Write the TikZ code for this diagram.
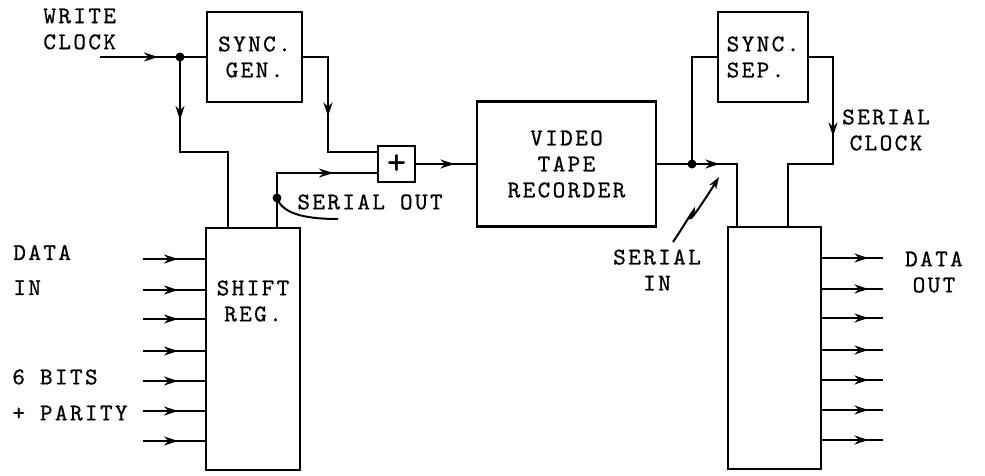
\documentclass[tikz,border=0pt]{standalone}
\usepackage{fontspec}
\newfontfamily\labelfont{lmmono10-regular.otf}[LetterSpace=10,FakeBold=0.7]
\newcommand{\blockfont}{\labelfont\fontsize{12}{13}\selectfont}
\usetikzlibrary{arrows.meta,decorations.markings}

\begin{document}
\begin{tikzpicture}[x=0.5pt,y=-0.5pt]
\tikzset{
  blockbox/.style={draw,line width=1.4pt,inner sep=0pt,font=\blockfont,align=center},
  wire/.style={line width=1pt},
  arrowat/.style={postaction={decorate},decoration={markings,mark=at position #1 with {\arrow{Stealth[length=7pt,width=4.5pt]}}}},
  tag/.style={font=\blockfont,inner sep=0pt,align=left},
  junction/.style={circle,fill,inner sep=0pt,minimum size=4.5pt}
}
\useasboundingbox (0,0) rectangle (985,476);
\node[blockbox,minimum width=47.5pt,minimum height=45pt] (n_syncgen) at (254.5,57) {SYNC.\\GEN.};
\node[blockbox,minimum width=45pt,minimum height=45pt,align=left] (n_syncsep) at (763,57) {SYNC.\\SEP.};
\node[blockbox,minimum width=89.5pt,minimum height=62.5pt] (n_vtr) at (566.5,164) {VIDEO\\TAPE\\RECORDER};
\node[blockbox,minimum width=18.5pt,minimum height=18pt,font=\labelfont\fontsize{18}{18}\selectfont] (n_plus) at (396.5,164) {+};
\node[blockbox,minimum width=47pt,minimum height=121pt] (n_shiftin) at (253,349) {};
\node[tag,align=center] (t_shift) at (253,301) {SHIFT\\REG.};
\node[blockbox,minimum width=46.5pt,minimum height=121pt] (n_shiftout) at (774.5,348) {};
\coordinate (c_wclk) at (100,57);
\node[junction] (j_wclk) at (180,57) {};
\coordinate (c_sin1) at (228,228);
\coordinate (c_pin1) at (378,152);
\coordinate (c_sout) at (277,228);
\node[junction] (j_sout) at (277,198) {};
\coordinate (c_pin2) at (378,173);
\coordinate (c_sotag) at (338,219);
\node[junction] (j_vtr) at (692,164) {};
\coordinate (c_sin2) at (737,227);
\coordinate (c_sin3) at (788,227);
\coordinate (c_sqtail) at (673,242);
\coordinate (c_sqhead) at (719,177);
\draw[wire,arrowat=29pt] (c_wclk) -- (n_syncgen.west);
\draw[wire,arrowat=31.5pt] (j_wclk.center) -- (180,152) -| (c_sin1);
\draw[wire,arrowat=42pt] (n_syncgen.east) -| (328,152) -- (c_pin1);
\draw[wire,arrowat=55.5pt] (c_sout) |- (c_pin2);
\draw[wire] (j_sout.center) .. controls (282,212) and (300,219) .. (c_sotag);
\draw[wire,arrowat=19pt] (n_plus.east) -- (n_vtr.west);
\draw[wire,arrowat=31pt] (n_vtr.east) -| (c_sin2);
\draw[wire] (j_vtr.center) |- (n_syncsep.west);
\draw[wire,arrowat=51.5pt] (n_syncsep.east) -| (833,164) -| (c_sin3);
\draw[wire,-{Stealth[length=6pt,width=4pt]}] (c_sqtail) .. controls (684,226) and (700,198) .. (692,215) .. controls (686,228) and (706,198) .. (c_sqhead);
\foreach \yy [count=\i] in {259,290,319,351,381,411,441}{
  \coordinate (c_in\i) at (143,\yy);
  \draw[wire,arrowat=17.5pt] (c_in\i) -- (c_in\i -| n_shiftin.west);
}
\foreach \yy [count=\i] in {258,289,318,350,380,410,440}{
  \coordinate (c_out\i) at (883,\yy);
  \draw[wire,arrowat=23pt] (c_out\i -| n_shiftout.east) -- (c_out\i);
}
\node[tag,anchor=west] (t_wclk) at (43,29) {WRITE\\CLOCK};
\node[tag,anchor=west] (t_sout) at (297,202) {SERIAL OUT};
\node[tag,align=center] (t_sclk) at (886,130) {SERIAL\\CLOCK};
\node[tag,anchor=west] (t_din) at (13,270) {DATA\\[4.5pt]IN};
\node[tag,anchor=west] (t_bits) at (12,395) {6 BITS\\[5pt]+ PARITY};
\node[tag,align=center] (t_sin) at (657,270) {SERIAL\\IN};
\node[tag,align=center] (t_dout) at (934,272) {DATA\\OUT};
\end{tikzpicture}
\end{document}
